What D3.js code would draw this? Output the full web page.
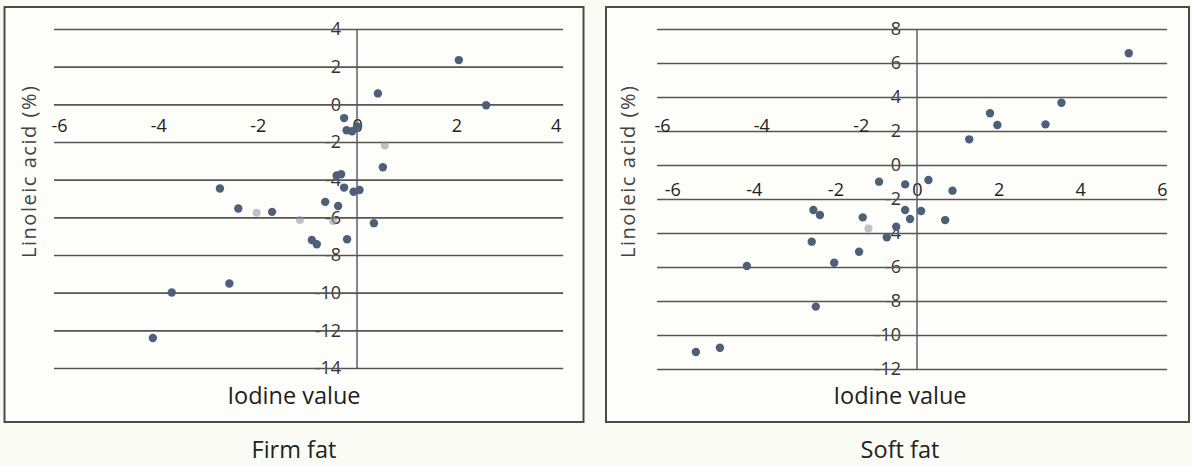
<!DOCTYPE html>
<html>
<head>
<meta charset="utf-8">
<script src="https://cdn.jsdelivr.net/npm/d3@7"></script>
<style>
  html, body { margin: 0; padding: 0; background: #fbfbf6; }
  svg { display: block; font-family: "Open Sans", "DejaVu Sans", sans-serif; }
</style>
</head>
<body>
<svg id="chart" width="1192" height="465"></svg>
<script>
// ---------------- data ----------------
const panelTitles = ["Firm fat", "Soft fat"];
const xAxisTitle = "Iodine value";
const yAxisTitle = "Linoleic acid (%)";

const firmXTicks = [-6, -4, -2, 0, 2, 4];
const firmYTicks = [4, 2, 0, -2, -4, -6, -8, -10, -12, -14];
const softXTicks = [-6, -4, -2, 0, 2, 4, 6];
const softYTicks = [8, 6, 4, 2, 0, -2, -4, -6, -8, -10, -12];
const softGhostXTicks = [-6, -4, -2];

const firmX = [2.05, 2.6, 0.42, -0.26, -0.21, -0.10, 0.0, 0.52, -0.32, -0.41, -2.76, -0.26, -0.07, 0.05,
               -2.39, -1.71, -0.64, -0.38, 0.34, -0.91, -0.81, -0.2, -2.57, -3.73, -4.11];
const firmY = [2.35, -0.05, 0.58, -0.73, -1.38, -1.43, -1.17, -3.34, -3.71, -3.78, -4.47, -4.42, -4.64, -4.55,
               -5.53, -5.71, -5.18, -5.4, -6.31, -7.2, -7.43, -7.16, -9.51, -9.99, -12.41];
const firmFaintX = [0.56, -2.02, -1.15, -0.48];
const firmFaintY = [-2.18, -5.75, -6.14, -6.19];

const softX = [5.19, 3.54, 1.79, 1.97, 3.15, 1.28, -0.93, -0.29, 0.28, 0.87, 0.1, -0.29, -0.17, 0.69,
               -2.54, -2.38, -1.33, -0.51, -0.74, -2.58, -1.42, -2.03, -4.17, -2.48, -4.83, -5.42];
const softY = [6.57, 3.66, 3.04, 2.35, 2.39, 1.51, -0.98, -1.14, -0.88, -1.51, -2.71, -2.65, -3.18, -3.24,
               -2.65, -2.94, -3.08, -3.63, -4.25, -4.51, -5.1, -5.75, -5.94, -8.33, -10.75, -11.0];
const softFaintX = [-1.19];
const softFaintY = [-3.73];

// ---------------- drawing ----------------
const svg = d3.select("#chart");
const fmt = d => String(d);

const panels = [
  {
    title: panelTitles[0], frame: [4.5, 7, 579, 415],
    x: d3.scaleLinear().domain([-6, 4]).range([59, 555.7]),
    y: d3.scaleLinear().domain([-14, 4]).range([368, 29]),
    gridDomain: [-6.1, 4.15],
    xTicks: firmXTicks, yTicks: firmYTicks, xLabelY: 126,
    xs: firmX, ys: firmY, fxs: firmFaintX, fys: firmFaintY,
    yTitleX: 29, titleCx: 294
  },
  {
    title: panelTitles[1], frame: [606, 7, 583, 415],
    x: d3.scaleLinear().domain([-6, 6]).range([672.2, 1161.8]),
    y: d3.scaleLinear().domain([-12, 8]).range([369, 29]),
    gridDomain: [-6.37, 6.13],
    xTicks: softXTicks, yTicks: softYTicks, xLabelY: 190,
    xs: softX, ys: softY, fxs: softFaintX, fys: softFaintY,
    yTitleX: 628, titleCx: 900
  }
];

panels.forEach((p, i) => {
  const g = svg.append("g");
  const [fx, fy, fw, fh] = p.frame;

  g.append("rect").attr("x", fx).attr("y", fy).attr("width", fw).attr("height", fh)
    .attr("fill", "#fdfdf9").attr("stroke", "#4a4a4a").attr("stroke-width", 2);

  const x0 = p.x(0);

  // y tick labels (centered on gridlines)
  const yAx = g.append("g").attr("transform", `translate(${x0},0)`)
    .call(d3.axisLeft(p.y).tickValues(p.yTicks).tickSize(0).tickPadding(16).tickFormat(fmt));
  yAx.select(".domain").remove();
  yAx.selectAll("text").attr("font-size", 18).attr("fill", "#333").attr("font-family", "Open Sans");

  // x tick labels
  const xAx = g.append("g").attr("transform", `translate(0,${p.xLabelY})`)
    .call(d3.axisBottom(p.x).tickValues(p.xTicks).tickSize(0).tickPadding(0).tickFormat(fmt));
  xAx.select(".domain").remove();
  xAx.selectAll("text").attr("dy", "0.35em").attr("font-size", 18).attr("fill", "#222")
    .attr("font-family", "Open Sans");

  // horizontal gridlines
  const gx1 = p.x(p.gridDomain[0]), gx2 = p.x(p.gridDomain[1]);
  const grid = g.append("g").attr("transform", `translate(${gx1},0)`)
    .call(d3.axisRight(p.y).tickValues(p.yTicks).tickSize(gx2 - gx1).tickFormat(""));
  grid.select(".domain").remove();
  grid.selectAll("line").attr("stroke", "#555").attr("stroke-width", 1.7);

  // vertical axis at x = 0
  g.append("line").attr("x1", x0).attr("x2", x0)
    .attr("y1", p.y(p.yTicks[0])).attr("y2", p.y(p.yTicks[p.yTicks.length - 1]))
    .attr("stroke", "#4f5562").attr("stroke-width", 1.4);

  // faint points
  g.append("g").selectAll("circle").data(d3.range(p.fxs.length)).join("circle")
    .attr("cx", j => p.x(p.fxs[j])).attr("cy", j => p.y(p.fys[j])).attr("r", 4)
    .attr("fill", "#8a91a0").attr("opacity", 0.55);

  // points
  g.append("g").selectAll("circle").data(d3.range(p.xs.length)).join("circle")
    .attr("cx", j => p.x(p.xs[j])).attr("cy", j => p.y(p.ys[j])).attr("r", 4.2)
    .attr("fill", "#4e6079");

  // axis titles
  g.append("text").attr("x", p.titleCx).attr("y", 396).attr("dy", "0.35em")
    .attr("text-anchor", "middle").attr("font-size", 23.5).attr("fill", "#1e1e1e")
    .text(xAxisTitle);

  g.append("text").attr("transform", `translate(${p.yTitleX},172) rotate(-90)`)
    .attr("dy", "0.35em").attr("text-anchor", "middle").attr("font-size", 20)
    .attr("fill", "#444").attr("textLength", 172).attr("lengthAdjust", "spacing")
    .text(yAxisTitle);

  // panel caption
  svg.append("text").attr("x", p.titleCx).attr("y", 450).attr("dy", "0.35em")
    .attr("text-anchor", "middle").attr("font-size", 23.5).attr("fill", "#222")
    .text(p.title);
});

// ghost copy of the firm-fat x labels that appears inside the soft-fat panel
const ghost = svg.append("g").attr("transform", `translate(603,126)`)
  .call(d3.axisBottom(panels[0].x).tickValues(softGhostXTicks).tickSize(0).tickPadding(0).tickFormat(fmt));
ghost.select(".domain").remove();
ghost.selectAll("text").attr("dy", "0.35em").attr("font-size", 18).attr("fill", "#222")
  .attr("font-family", "Open Sans");
</script>
</body>
</html>
